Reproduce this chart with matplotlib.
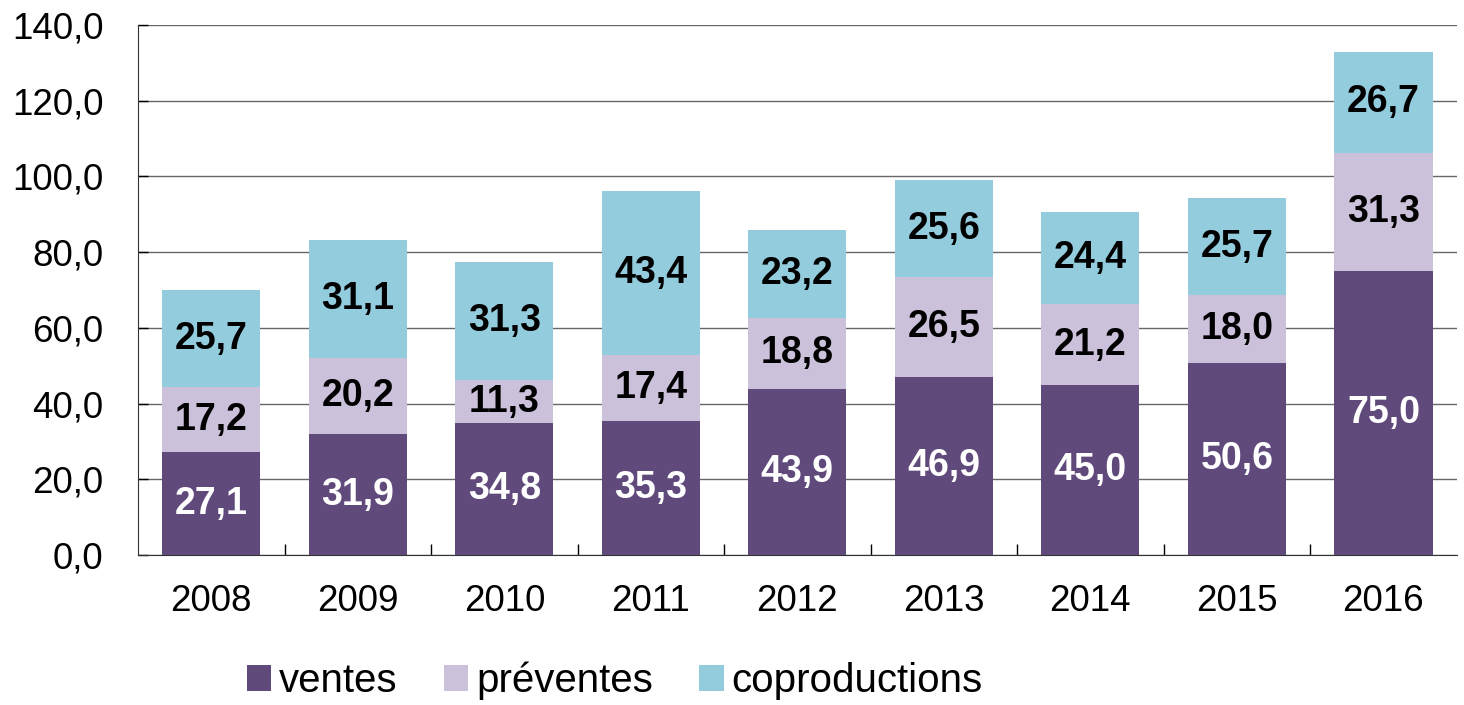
import numpy as np
import matplotlib
matplotlib.use('Agg')
import matplotlib.pyplot as plt
from matplotlib.ticker import FuncFormatter, MultipleLocator, FixedLocator

years = ['2008', '2009', '2010', '2011', '2012', '2013', '2014', '2015', '2016']
ventes = [27.1, 31.9, 34.8, 35.3, 43.9, 46.9, 45.0, 50.6, 75.0]
preventes = [17.2, 20.2, 11.3, 17.4, 18.8, 26.5, 21.2, 18.0, 31.3]
coproductions = [25.7, 31.1, 31.3, 43.4, 23.2, 25.6, 24.4, 25.7, 26.7]

series = [('ventes', ventes, '#604a7b', 'white'),
          ('préventes', preventes, '#ccc1da', 'black'),
          ('coproductions', coproductions, '#93cddd', 'black')]

plt.rcParams['font.family'] = ['Liberation Sans', 'DejaVu Sans']

fig = plt.figure(figsize=(14.64, 7.05), dpi=100)
ax = fig.add_axes([0.0943, 0.2128, 0.9007, 0.7517])

x = np.arange(len(years))
bottom = np.zeros(len(years))
for name, vals, col, tcol in series:
    bars = ax.bar(x, vals, 0.67, bottom=bottom, color=col, label=name, zorder=3)
    ax.bar_label(bars, labels=[f'{v:.1f}'.replace('.', ',') for v in vals],
                 label_type='center', color=tcol, fontsize=27, fontweight='bold')
    bottom += np.array(vals)

ax.set_xlim(-0.5, len(years) - 0.5)
ax.set_ylim(0, 140)
ax.yaxis.set_major_locator(MultipleLocator(20))
ax.yaxis.set_major_formatter(FuncFormatter(lambda v, p: f'{v:.1f}'.replace('.', ',')))
ax.grid(axis='y', color='#666666', lw=1.0, zorder=0)

ax.set_xticks(x)
ax.set_xticklabels(years)
ax.xaxis.set_minor_locator(FixedLocator(np.arange(0.5, len(years) - 0.5, 1)))
ax.tick_params(axis='x', which='major', length=0, pad=21, labelsize=26.5)
ax.tick_params(axis='x', which='minor', direction='in', length=8, width=1)
ax.tick_params(axis='y', direction='in', length=7, width=1, labelsize=26.5, pad=25)

for s in ['top', 'right']:
    ax.spines[s].set_visible(False)
ax.spines['left'].set_color('#333333')
ax.spines['bottom'].set_color('#333333')

fig.legend(loc='center', bbox_to_anchor=(0.42, 0.034), ncol=3, frameon=False,
           fontsize=29, handlelength=0.6, handleheight=0.6, handletextpad=0.2,
           columnspacing=1.15, borderpad=0.1)

fig.savefig('out.png', dpi=100)
